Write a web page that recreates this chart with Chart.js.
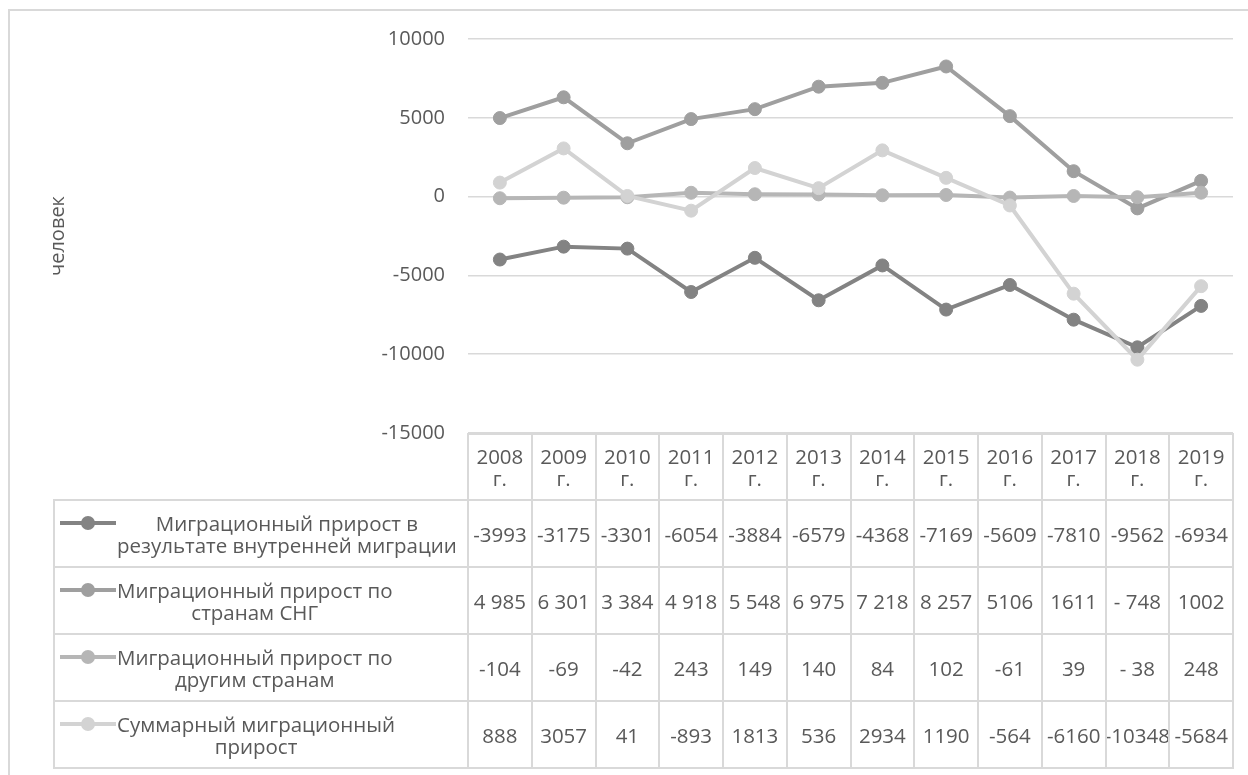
<!DOCTYPE html>
<html>
<head>
<meta charset="utf-8">
<script src="https://cdn.jsdelivr.net/npm/chart.js@4/dist/chart.umd.min.js"></script>
<style>
  body { margin: 0; background: #fff; }
  #wrap { position: relative; width: 1248px; height: 775px; overflow: hidden;
          font-family: 'Open Sans', sans-serif; color: #595959; }
  #frame { position: absolute; left: 8px; top: 9px; width: 1400px; height: 900px;
           border: 2px solid #d9d9d9; box-sizing: border-box; }
  #chartBox { position: absolute; left: 0; top: 0; width: 1248px; height: 775px; }
  #table { position: absolute; left: 0; top: 0; width: 1248px; height: 775px; }
  .ln { position: absolute; background: #d9d9d9; }
  .cell { position: absolute; display: flex; align-items: center; justify-content: center;
          text-align: center; font-size: 20.5px; line-height: 22px; white-space: nowrap; }
  .leg { position: absolute; display: flex; align-items: center; font-size: 20.5px;
         line-height: 22px; white-space: nowrap; }
  .leg .inner { display: flex; align-items: flex-start; }
  .leg .icon { position: relative; width: 56px; height: 22px; flex: none; margin-right: 1px; }
  .leg .icon .bar { position: absolute; left: 0; top: 9px; width: 56px; height: 4px; }
  .leg .icon .dot { position: absolute; left: 21px; top: 4px; width: 14px; height: 14px; border-radius: 50%; }
  .leg .txt { text-align: center; }
</style>
</head>
<body>
<div id="wrap">
  <div id="frame"></div>
  <div id="chartBox"><canvas id="chart"></canvas></div>
  <div id="table"></div>
</div>
<script>
// categories
var years = ['2008', '2009', '2010', '2011', '2012', '2013', '2014', '2015', '2016', '2017', '2018', '2019'];
var yearSuffix = 'г.';

// series names (lines as shown in the data table)
var seriesNames = [
  ['Миграционный прирост в', 'результате внутренней миграции'],
  ['Миграционный прирост по', 'странам СНГ'],
  ['Миграционный прирост по', 'другим странам'],
  ['Суммарный миграционный', 'прирост']
];

// series values
var internalValues = [-3993, -3175, -3301, -6054, -3884, -6579, -4368, -7169, -5609, -7810, -9562, -6934];
var cisValues      = [4985, 6301, 3384, 4918, 5548, 6975, 7218, 8257, 5106, 1611, -748, 1002];
var otherValues    = [-104, -69, -42, 243, 149, 140, 84, 102, -61, 39, -38, 248];
var totalValues    = [888, 3057, 41, -893, 1813, 536, 2934, 1190, -564, -6160, -10348, -5684];

// values as printed in the data table
var internalText = ['-3993', '-3175', '-3301', '-6054', '-3884', '-6579', '-4368', '-7169', '-5609', '-7810', '-9562', '-6934'];
var cisText      = ['4 985', '6 301', '3 384', '4 918', '5 548', '6 975', '7 218', '8 257', '5106', '1611', '- 748', '1002'];
var otherText    = ['-104', '-69', '-42', '243', '149', '140', '84', '102', '-61', '39', '- 38', '248'];
var totalText    = ['888', '3057', '41', '-893', '1813', '536', '2934', '1190', '-564', '-6160', '-10348', '-5684'];

// y axis
var yMin = -15000, yMax = 10000, yStep = 5000;
var yTitle = 'человек';

var seriesColors = ['#838383', '#9f9f9f', '#b6b6b6', '#d3d3d3'];
var allValues = [internalValues, cisValues, otherValues, totalValues];
var allText = [internalText, cisText, otherText, totalText];

var datasets = [];
for (var i = 0; i < allValues.length; i++) {
  datasets.push({
    label: seriesNames[i].join(' '),
    data: allValues[i],
    borderColor: seriesColors[i],
    backgroundColor: seriesColors[i],
    pointBackgroundColor: seriesColors[i],
    pointBorderColor: seriesColors[i],
    borderWidth: 4,
    pointRadius: 6.5,
    pointBorderWidth: 1,
    tension: 0,
    order: allValues.length - 1 - i
  });
}

var chart = new Chart(document.getElementById('chart'), {
  type: 'line',
  data: { labels: years, datasets: datasets },
  options: {
    responsive: true,
    maintainAspectRatio: false,
    animation: false,
    layout: { padding: { top: 39, right: 15, bottom: 342, left: 0 } },
    plugins: { legend: { display: false }, tooltip: { enabled: false } },
    scales: {
      x: { display: false, offset: true },
      y: {
        min: yMin,
        max: yMax,
        ticks: {
          stepSize: yStep,
          padding: 23,
          color: '#595959',
          font: { family: 'Open Sans', size: 20 },
          callback: function(v) { return String(v); }
        },
        grid: { color: '#d9d9d9', lineWidth: 1.5, drawTicks: false },
        border: { display: false },
        title: {
          display: true,
          text: yTitle,
          color: '#595959',
          font: { family: 'Open Sans', size: 20 },
          padding: { top: 46, bottom: 0 }
        },
        afterFit: function(scale) { scale.width = 468; }
      }
    }
  }
});

// data table under the plot, columns taken from the x scale
function buildTable() {
  var box = document.getElementById('table');
  var xs = chart.scales.x;
  var area = chart.chartArea;
  var colW = (area.right - area.left) / years.length;
  var top = Math.round(area.bottom) + 1;
  var headH = 66, rowH = 67;
  var legLeft = 54;
  var html = '';

  function line(x, y, w, h) {
    html += '<div class="ln" style="left:' + x + 'px;top:' + y + 'px;width:' + w + 'px;height:' + h + 'px"></div>';
  }
  function cell(x, y, w, h, txt) {
    html += '<div class="cell" style="left:' + x + 'px;top:' + y + 'px;width:' + w + 'px;height:' + h + 'px">' + txt + '</div>';
  }

  var bottom = top + headH + rowH * allValues.length;

  // header
  for (var j = 0; j < years.length; j++) {
    var cx = xs.getPixelForValue(j);
    cell(cx - colW / 2, top, colW, headH, years[j] + '<br>' + yearSuffix);
  }

  // rows
  for (var r = 0; r < allValues.length; r++) {
    var ry = top + headH + r * rowH;
    html += '<div class="leg" style="left:' + (legLeft + 6) + 'px;top:' + ry + 'px;width:' + (area.left - legLeft - 6) + 'px;height:' + rowH + 'px">' +
      '<div class="inner"><span class="icon"><span class="bar" style="background:' + seriesColors[r] + '"></span>' +
      '<span class="dot" style="background:' + seriesColors[r] + '"></span></span>' +
      '<div class="txt">' + seriesNames[r].join('<br>') + '</div></div></div>';
    for (var k = 0; k < years.length; k++) {
      var px = xs.getPixelForValue(k);
      cell(px - colW / 2, ry, colW, rowH, allText[r][k]);
    }
  }

  // grid lines of the table
  line(area.left - 1, top - 1, area.right - area.left + 2, 2);
  for (var h = 0; h <= allValues.length; h++) {
    line(legLeft - 1, top + headH + h * rowH - 1, area.right - legLeft + 2, 2);
  }
  line(legLeft - 1, top + headH - 1, 2, bottom - top - headH + 1);
  for (var v = 0; v <= years.length; v++) {
    line(area.left + v * colW - 1, top - 1, 2, bottom - top + 1);
  }

  box.innerHTML = html;
}
buildTable();
</script>
</body>
</html>
